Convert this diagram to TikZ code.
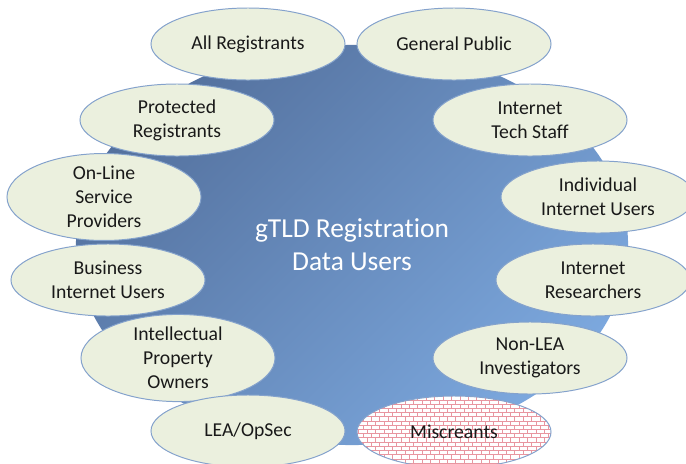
\documentclass[tikz,border=0pt]{standalone}
\usepackage{fontspec}
\setmainfont{Carlito}[Ligatures=NoCommon]
\usepackage{tikz}
\usetikzlibrary{shapes,patterns}
\definecolor{hubdark}{RGB}{84,113,158}
\definecolor{hublight}{RGB}{124,168,222}
\definecolor{userfill}{RGB}{235,240,222}
\definecolor{userline}{RGB}{132,162,204}
\definecolor{brickred}{RGB}{232,150,160}

% small brick wall for the odd one out
\pgfdeclarepatternformonly{brickwall}{\pgfqpoint{-1pt}{-1pt}}{\pgfqpoint{7pt}{7pt}}{\pgfqpoint{6pt}{6pt}}{
  \pgfsetlinewidth{0.3pt}
  \pgfpathmoveto{\pgfqpoint{0pt}{0pt}}\pgfpathlineto{\pgfqpoint{6pt}{0pt}}
  \pgfpathmoveto{\pgfqpoint{0pt}{3pt}}\pgfpathlineto{\pgfqpoint{6pt}{3pt}}
  \pgfpathmoveto{\pgfqpoint{0pt}{0pt}}\pgfpathlineto{\pgfqpoint{0pt}{3pt}}
  \pgfpathmoveto{\pgfqpoint{3pt}{3pt}}\pgfpathlineto{\pgfqpoint{3pt}{6pt}}
  \pgfusepath{stroke}
}

\tikzset{
  hub node/.style={ellipse,inner sep=0pt,minimum width=13.8cm,minimum height=10cm,
    top color=hubdark,bottom color=hublight,shading angle=45,
    text=white,align=center,font=\fontsize{19.5}{23.5}\selectfont},
  user node/.style={ellipse,draw=userline,line width=0.7pt,fill=userfill,
    inner sep=0pt,minimum width=4.85cm,minimum height=1.8cm,
    align=center,text=black!90,font=\fontsize{14}{17}\selectfont},
  odd node/.style={user node,preaction={fill=white},pattern=brickwall,pattern color=brickred}
}

\begin{document}
\begin{tikzpicture}[x=0.025cm,y=-0.025cm]

        \useasboundingbox (0,0) rectangle (686,463);

        \node[hub node] (hub) at (352,245) {gTLD Registration\\Data Users};

        \node[user node] (allreg) at (248,44) {All Registrants};
        \node[user node] (genpub) at (454,44) {General Public};
        \node[user node] (protreg) at (177,120) {Protected\\Registrants};
        \node[user node] (techstaff) at (530,120) {Internet\\Tech Staff};
        \node[user node] (onlinesp) at (104,197) {On-Line\\Service\\Providers};
        \node[user node] (indusers) at (598,197) {Individual\\Internet Users};
        \node[user node] (bizusers) at (108,280) {Business\\Internet Users};
        \node[user node] (researchers) at (593,280) {Internet\\Researchers};
        \node[user node] (ipowners) at (178,358) {Intellectual\\Property\\Owners};
        \node[user node] (nonlea) at (530,358) {Non-LEA\\Investigators};
        \node[user node] (leaopsec) at (248,431) {LEA/OpSec};
        \node[odd node] (miscreants) at (454,432) {Miscreants};

      \end{tikzpicture}
\end{document}
